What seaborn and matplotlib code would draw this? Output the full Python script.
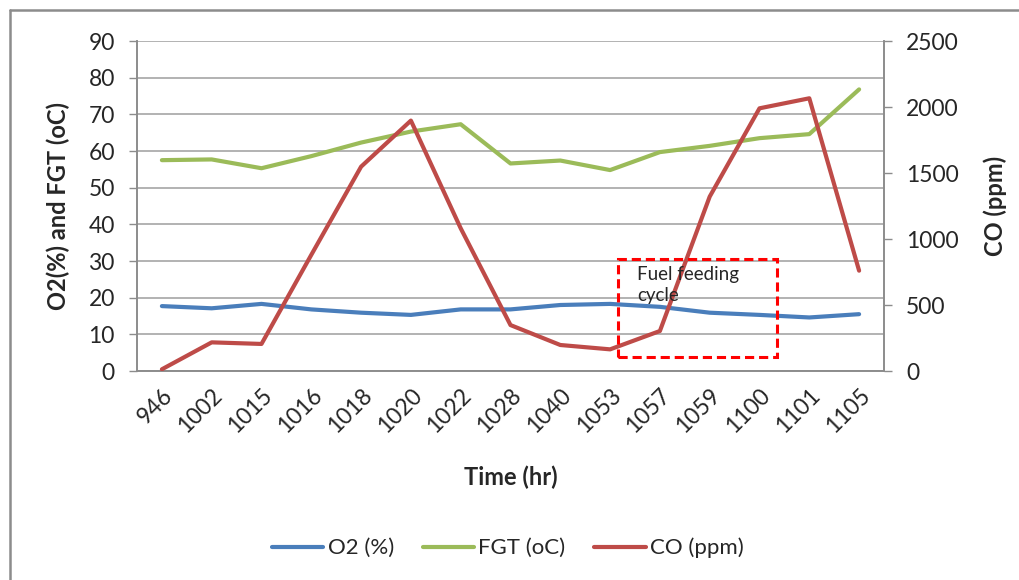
import matplotlib
matplotlib.use("Agg")
import matplotlib.pyplot as plt
from matplotlib.lines import Line2D
from matplotlib.patches import Rectangle
import numpy as np
import pandas as pd
import seaborn as sns

# Sampling times (hhmm) and measured values
times = ["946", "1002", "1015", "1016", "1018", "1020", "1022", "1028",
         "1040", "1053", "1057", "1059", "1100", "1101", "1105"]
o2_pct = [17.7, 17.1, 18.3, 16.8, 15.9, 15.3, 16.8, 16.8,
          18.0, 18.3, 17.5, 15.9, 15.3, 14.6, 15.5]
fgt_c = [57.5, 57.7, 55.3, 58.6, 62.3, 65.3, 67.3, 56.6,
         57.4, 54.8, 59.7, 61.4, 63.5, 64.6, 76.8]
co_ppm = [13, 217, 205, 880, 1548, 1897, 1081, 348,
          197, 164, 303, 1321, 1990, 2066, 760]

left_ticks = list(range(0, 91, 10))
right_ticks = list(range(0, 2501, 500))

sns.set_style("white")
plt.rcParams["font.family"] = ["Lato", "DejaVu Sans"]

text_col = "#262626"
grid_col = "#A6A6A6"
axis_col = "#8C8C8C"
c_o2, c_fgt, c_co = "#4A7EBB", "#9BBB59", "#BE4B48"

df = pd.DataFrame({"time": times, "O2": o2_pct, "FGT": fgt_c, "CO": co_ppm})
df["pos"] = np.arange(len(df))

fig = plt.figure(figsize=(10.19, 5.80), dpi=100)
ax = fig.add_axes([137 / 1019, 1 - 371 / 580, (884 - 137) / 1019, (371 - 41) / 580])
ax2 = ax.twinx()

lw = 3.0
sns.lineplot(data=df, x="pos", y="O2", ax=ax, color=c_o2, linewidth=lw,
             label="O2 (%)", legend=False, zorder=3)
sns.lineplot(data=df, x="pos", y="FGT", ax=ax, color=c_fgt, linewidth=lw,
             label="FGT (oC)", legend=False, zorder=3)
sns.lineplot(data=df, x="pos", y="CO", ax=ax2, color=c_co, linewidth=lw,
             label="CO (ppm)", legend=False, zorder=3)

# Axes ranges and ticks
ax.set_xlim(-0.5, len(times) - 0.5)
ax.set_ylim(0, 90)
ax2.set_ylim(0, 2500)
ax.set_yticks(left_ticks)
ax2.set_yticks(right_ticks)
ax.set_xticks(df["pos"])
ax.set_xticklabels(times, rotation=45, ha="right", va="top",
                   rotation_mode="anchor", fontsize=16.5, color=text_col)
ax.set_xticks(np.arange(-0.5, len(times)), minor=True)
ax.tick_params(axis="x", which="major", length=0, pad=10)
ax.tick_params(axis="x", which="minor", length=6, width=1, color=axis_col,
               direction="out")
ax.tick_params(axis="y", length=6, width=1, color=axis_col, pad=10,
               labelsize=16.5, labelcolor=text_col, left=True)
ax2.tick_params(axis="y", length=6, width=1, color=axis_col, pad=10,
                labelsize=16.5, labelcolor=text_col, right=True)

ax.yaxis.grid(True, color=grid_col, linewidth=1.2)
ax.xaxis.grid(False)
ax.set_axisbelow(True)

for a in (ax, ax2):
    a.spines["top"].set_visible(False)
    for s in ("left", "right", "bottom"):
        a.spines[s].set_color(axis_col)
        a.spines[s].set_linewidth(1.2)

ax.set_xlabel("Time (hr)", fontsize=17, fontweight="bold", color=text_col)
ax.set_ylabel("O2(%) and FGT (oC)", fontsize=17, fontweight="bold", color=text_col)
ax2.set_ylabel("CO (ppm)", fontsize=17, fontweight="bold", color=text_col)
ax.yaxis.set_label_coords(-0.089, 0.5)
ax2.yaxis.set_label_coords(1.133, 0.5)
ax.xaxis.set_label_coords(0.5, -0.285)

# Dashed annotation box marking the fuel feeding cycle
box = Rectangle((9.16, 3.7), 3.19, 26.9, transform=ax.transData,
                fill=False, edgecolor="#FF0000", linewidth=2.2,
                linestyle=(0, (3, 1.6)), zorder=10)
ax2.add_patch(box)
ax2.text(9.55, 28.6, "Fuel feeding\ncycle", transform=ax.transData,
         fontsize=13.5, color=text_col, ha="left", va="top",
         linespacing=1.25, zorder=11)

# Legend below the plot
handles = [Line2D([], [], color=c, linewidth=lw) for c in (c_o2, c_fgt, c_co)]
fig.legend(handles, ["O2 (%)", "FGT (oC)", "CO (ppm)"], loc="center",
           bbox_to_anchor=(508 / 1019, 1 - 548 / 580), ncol=3, frameon=False,
           fontsize=16, handlelength=2.3, handletextpad=0.2,
           columnspacing=1.3, labelcolor=text_col)

# Chart border (left and top edges)
fig.add_artist(Line2D([10 / 1019, 10 / 1019], [0, 1 - 10 / 580],
                      transform=fig.transFigure, color="#8C8C8C", linewidth=1.8))
fig.add_artist(Line2D([10 / 1019, 1], [1 - 10 / 580, 1 - 10 / 580],
                      transform=fig.transFigure, color="#8C8C8C", linewidth=1.8))

fig.savefig("out.png", dpi=100, facecolor="white")
